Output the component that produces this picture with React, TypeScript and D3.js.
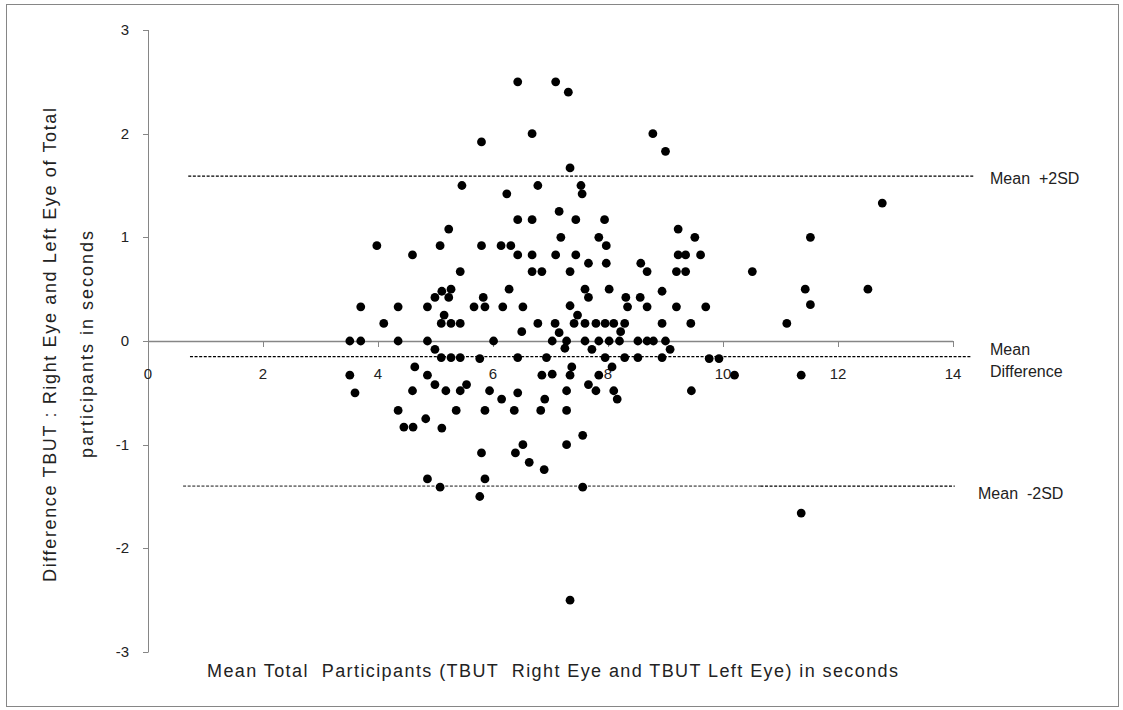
import React from "react";
import * as d3 from "d3";

// Mean of right/left eye TBUT (s) for each participant
const meanTbut: number[] = [
  6.43, 7.09, 7.31, 6.68, 8.78, 5.8, 9.0, 7.34, 5.46, 6.78,
  7.53, 6.24, 7.55, 12.77, 7.15, 6.43, 6.68, 7.44, 7.94, 5.23,
  9.22, 7.18, 7.84, 9.51, 11.52, 3.98, 5.08, 5.8, 6.14, 6.31,
  7.97, 4.6, 6.43, 6.68, 7.09, 7.44, 9.22, 9.35, 9.61, 7.66,
  7.97, 8.57, 10.51, 5.43, 6.68, 6.85, 7.34, 8.68, 9.19, 9.35,
  5.11, 5.27, 6.28, 7.6, 8.02, 8.94, 11.43, 12.52, 4.99, 5.23,
  5.83, 7.66, 8.31, 8.56, 3.7, 4.35, 4.86, 5.67, 5.86, 6.17,
  6.52, 7.34, 8.34, 8.68, 9.19, 9.7, 11.52, 5.15, 7.47, 4.1,
  5.1, 5.27, 5.43, 6.78, 7.08, 7.41, 7.6, 7.79, 7.95, 8.1,
  8.29, 8.94, 9.44, 11.11, 6.5, 7.15, 8.22, 3.51, 3.7, 4.35,
  4.86, 6.01, 7.03, 7.28, 7.6, 7.84, 8.02, 8.2, 8.52, 8.68,
  8.79, 9.0, 4.99, 7.25, 7.72, 9.08, 5.1, 5.27, 5.43, 5.77,
  6.43, 6.93, 7.95, 8.29, 8.52, 8.94, 9.76, 9.93, 4.64, 7.37,
  8.07, 3.51, 4.86, 6.85, 7.03, 7.34, 7.84, 10.2, 11.36, 4.99,
  5.54, 7.66, 3.6, 4.6, 5.18, 5.43, 5.94, 6.43, 7.28, 7.79,
  8.1, 9.45, 6.15, 6.9, 8.16, 4.35, 5.36, 5.86, 6.37, 6.83,
  7.28, 4.83, 4.45, 4.61, 5.11, 7.56, 6.52, 7.28, 5.8, 6.39,
  6.63, 6.89, 4.86, 5.86, 5.08, 7.56, 5.77, 11.36, 7.34,
];

// Difference right eye minus left eye TBUT (s), same order
const diffTbut: number[] = [
  2.5, 2.5, 2.4, 2.0, 2.0, 1.92, 1.83, 1.67, 1.5, 1.5,
  1.5, 1.42, 1.42, 1.33, 1.25, 1.17, 1.17, 1.17, 1.17, 1.08,
  1.08, 1.0, 1.0, 1.0, 1.0, 0.92, 0.92, 0.92, 0.92, 0.92,
  0.92, 0.83, 0.83, 0.83, 0.83, 0.83, 0.83, 0.83, 0.83, 0.75,
  0.75, 0.75, 0.67, 0.67, 0.67, 0.67, 0.67, 0.67, 0.67, 0.67,
  0.48, 0.5, 0.5, 0.5, 0.5, 0.48, 0.5, 0.5, 0.42, 0.42,
  0.42, 0.42, 0.42, 0.42, 0.33, 0.33, 0.33, 0.33, 0.33, 0.33,
  0.33, 0.34, 0.33, 0.33, 0.33, 0.33, 0.35, 0.25, 0.25, 0.17,
  0.17, 0.17, 0.17, 0.17, 0.17, 0.17, 0.17, 0.17, 0.17, 0.17,
  0.17, 0.17, 0.17, 0.17, 0.09, 0.08, 0.09, 0, 0, 0,
  0, 0, 0, 0, 0, 0, 0, 0, 0, 0,
  0, 0, -0.08, -0.07, -0.08, -0.08, -0.16, -0.16, -0.16, -0.17,
  -0.16, -0.16, -0.16, -0.16, -0.16, -0.16, -0.17, -0.17, -0.25, -0.25,
  -0.25, -0.33, -0.33, -0.33, -0.32, -0.33, -0.33, -0.33, -0.33, -0.42,
  -0.42, -0.42, -0.5, -0.48, -0.48, -0.48, -0.48, -0.5, -0.48, -0.48,
  -0.48, -0.48, -0.56, -0.56, -0.56, -0.67, -0.67, -0.67, -0.67, -0.67,
  -0.67, -0.75, -0.83, -0.83, -0.84, -0.91, -1.0, -1.0, -1.08, -1.08,
  -1.17, -1.24, -1.33, -1.33, -1.41, -1.41, -1.5, -1.66, -2.5,
];

// Limits of agreement
const meanDifference = -0.15;
const upperLimit = 1.59;
const lowerLimit = -1.4;

const xTicks = [0, 2, 4, 6, 8, 10, 12, 14];
const yTicks = [-3, -2, -1, 0, 1, 2, 3];

const W = 1123;
const H = 710;

export default function App() {
  const x = d3.scaleLinear().domain([0, 14]).range([148, 953]);
  const y = d3.scaleLinear().domain([-3, 3]).range([652, 30]);
  const axisColor = "#868686";
  const font = "'Liberation Sans', Arial, sans-serif";
  const points = meanTbut.map((m, i) => ({ m, d: diffTbut[i] }));

  const dash = "3,1.6";
  const x0 = y(0);

  return (
    <svg
      width={W}
      height={H}
      style={{ position: "absolute", left: 0, top: 0, background: "#fff" }}
      fontFamily={font}
    >
      <rect x={6.5} y={4.5} width={1112} height={702} fill="#fff" stroke={axisColor} strokeWidth={1} />

      {/* y axis */}
      <line x1={x(0) + 0.5} x2={x(0) + 0.5} y1={y(3)} y2={y(-3)} stroke={axisColor} />
      {yTicks.map((t) => (
        <g key={"yt" + t}>
          <line x1={x(0) - 5} x2={x(0) + 0.5} y1={Math.round(y(t)) + 0.5} y2={Math.round(y(t)) + 0.5} stroke={axisColor} />
          <text x={129} y={y(t) + 5} textAnchor="end" fontSize={15} fill="#222">
            {t}
          </text>
        </g>
      ))}

      {/* x axis along zero difference */}
      <line x1={x(0)} x2={x(14)} y1={Math.round(x0) + 0.5} y2={Math.round(x0) + 0.5} stroke={axisColor} strokeWidth={1.5} />
      {xTicks.map((t) => (
        <g key={"xt" + t}>
          <line x1={Math.round(x(t)) + 0.5} x2={Math.round(x(t)) + 0.5} y1={x0} y2={x0 + 6} stroke={axisColor} />
          <text x={x(t)} y={379} textAnchor="middle" fontSize={15} fill="#222">
            {t}
          </text>
        </g>
      ))}

      {/* mean and limits of agreement */}
      <line x1={x(0.7)} x2={x(14.38)} y1={y(upperLimit)} y2={y(upperLimit)} stroke="#000" strokeWidth={1.3} strokeDasharray={dash} />
      <line x1={x(0.73)} x2={x(14.33)} y1={y(meanDifference)} y2={y(meanDifference)} stroke="#000" strokeWidth={1.3} strokeDasharray={dash} />
      <line x1={x(0.61)} x2={x(10.65)} y1={y(lowerLimit)} y2={y(lowerLimit)} stroke="#7a7a7a" strokeDasharray={dash} strokeWidth={1.6} />
      <line x1={x(10.65)} x2={x(14.03)} y1={y(lowerLimit)} y2={y(lowerLimit)} stroke="#000" strokeWidth={1.3} strokeDasharray={dash} />

      <text x={990} y={y(upperLimit) + 8} fontSize={16} fill="#222" xmlSpace="preserve">
        Mean  +2SD
      </text>
      <text x={990} y={y(meanDifference) - 2} fontSize={16} fill="#222">
        Mean
      </text>
      <text x={990} y={y(meanDifference) + 20} fontSize={16} fill="#222">
        Difference
      </text>
      <text x={978} y={y(lowerLimit) + 13} fontSize={16} fill="#222" xmlSpace="preserve">
        Mean  -2SD
      </text>

      {/* points */}
      {points.map((p, i) => (
        <circle key={i} cx={x(p.m)} cy={y(p.d)} r={4.4} fill="#000" />
      ))}

      {/* axis titles */}
      <text
        x={207}
        y={677}
        fontSize={18}
        fill="#222"
        xmlSpace="preserve"
        textLength={691}
        lengthAdjust="spacing"
      >
        Mean Total  Participants (TBUT  Right Eye and TBUT Left Eye) in seconds
      </text>
      <g transform="translate(56,345) rotate(-90)">
        <text x={-237} y={0} fontSize={18} fill="#222" textLength={474} lengthAdjust="spacing">
          Difference TBUT : Right Eye and Left Eye of Total
        </text>
        <text x={-113} y={37} fontSize={18} fill="#222" textLength={227} lengthAdjust="spacing">
          participants in seconds
        </text>
      </g>
    </svg>
  );
}
